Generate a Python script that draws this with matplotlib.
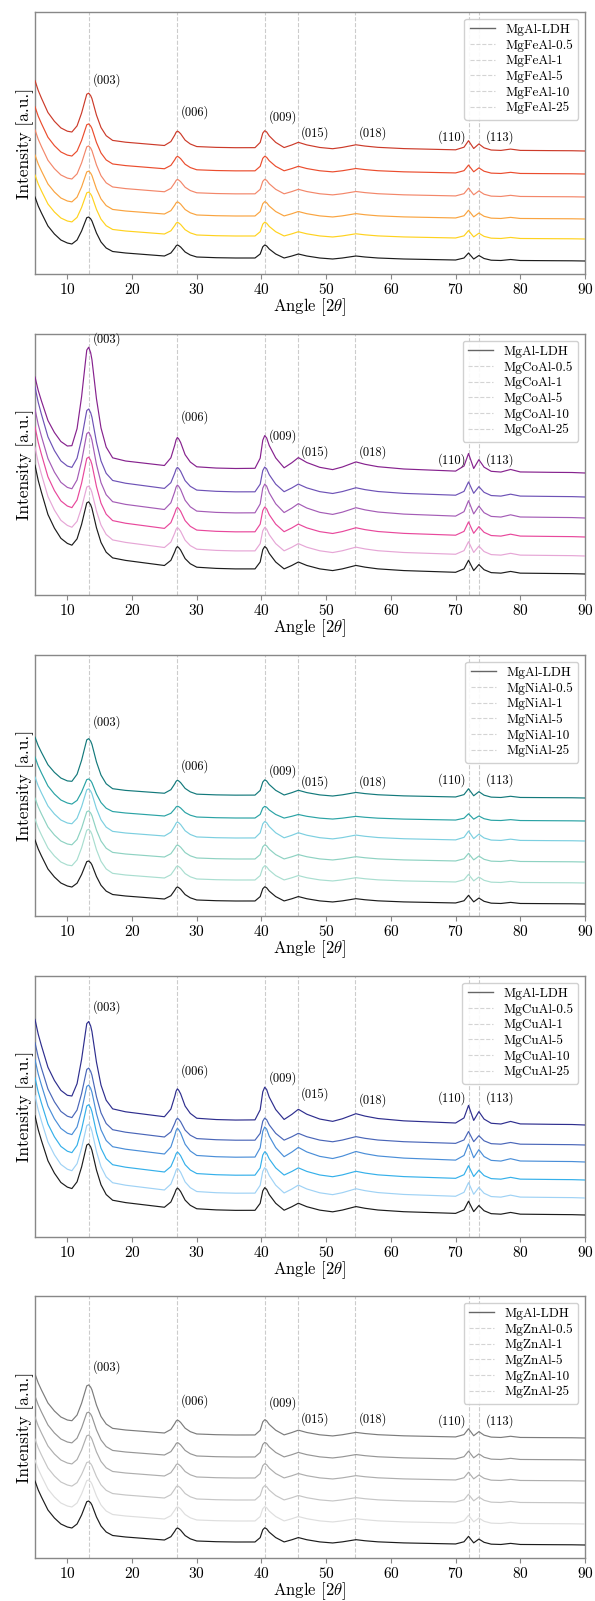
import matplotlib
matplotlib.use("Agg")
import numpy as np
import matplotlib.pyplot as plt
from matplotlib.lines import Line2D

plt.rcParams['font.family'] = 'serif'
plt.rcParams['font.serif'] = ['cmr10']
plt.rcParams['mathtext.fontset'] = 'cm'
plt.rcParams['axes.unicode_minus'] = False
plt.rcParams['axes.formatter.use_mathtext'] = True

# Profil de référence (MgAl-LDH), en unités arbitraires
angle = [5, 5.5, 6, 7, 8, 9, 10, 10.7, 11.5, 12.2, 12.8, 13.0, 13.3, 13.6, 13.8, 14.5, 15.2, 16, 17,
         19, 22, 25, 26, 26.6, 26.8, 27, 27.2, 27.5, 28.2, 29, 30,
         33, 36, 39, 39.8, 40.2, 40.5, 40.8, 41.2, 42.2, 43.5, 44.7, 45.7,
         47, 49, 51, 52.5, 54.6, 56, 58, 62, 66, 70,
         71.3, 72.0, 72.8, 73.6, 74.4, 75.5, 77, 78.5, 80, 85, 88, 90]
background = [64, 55, 48, 35, 27, 21, 18, 16, 14, 13, 12, 11.8, 11.5, 11.2, 11, 10.5, 10, 9.5, 9,
              8, 6.5, 5, 4.8, 4.6, 4.55, 4.5, 4.45, 4.4, 4.2, 4, 3.8,
              3.3, 3, 2.8, 2.7, 2.65, 2.6, 2.55, 2.5, 2.4, 2.3, 2.2, 2.1,
              2, 1.8, 1.6, 1.5, 1.4, 1.3, 1.2, 1, 0.8, 0.6,
              0.5, 0.5, 0.5, 0.4, 0.4, 0.3, 0.3, 0.2, 0.2, 0.1, 0, 0]
peak_003 = [0, 0, 0, 0, 0, 0, 0, 1, 7, 17, 28, 31.5, 32.5, 31, 29, 17.5, 9, 3.5, 0.5] + [0] * 46
other_peaks = [0] * 22 + [3.2, 8.4, 10.5, 11.5, 11, 9.6, 4.8, 2, 0.2,
                          0, 0, 0.2, 4.3, 11.5, 13.4, 12.5, 9.5, 4.6, 0.7, 2.8, 4.9,
                          3, 1.2, 0.4, 1.5, 3.6, 2.7, 1.8, 1, 0.7, 0.4,
                          2.5, 7.5, 1.5, 5.1, 2.1, 0.5, 0.2, 1.3, 0.3, 0.2, 0.2, 0]

metals = ['Fe', 'Co', 'Ni', 'Cu', 'Zn']
loadings = ['0.5', '1', '5', '10', '25']

# décalage vertical et facteurs d'échelle de chaque courbe (MgAl-LDH puis 0.5 ... 25)
offsets = [[13, 35, 55, 77, 100, 123],
           [21, 39, 58, 77, 98, 122],
           [12, 33, 54, 75, 95, 118],
           [22, 39, 57, 75, 92, 112],
           [13, 34, 55, 77, 98, 120]]
bg_scale = [[1, 1, 1, 1.05, 1.05, 1.1],
            [1.7, 1.7, 1.72, 1.7, 1.72, 1.5],
            [1, 1, 1, 1, 1, 0.95],
            [1.55, 1.6, 1.6, 1.6, 1.6, 1.65],
            [1, 1, 1, 1, 1, 1]]
peak_scale = [[1, 1.06, 1.1, 1.12, 1.12, 1.3],
              [1.72, 1.8, 1.9, 2.2, 1.9, 2.5],
              [1.09, 1.09, 1.09, 1.26, 0.9, 1.17],
              [1.74, 1.95, 1.8, 2.3, 1.7, 2.5],
              [1.09, 1.1, 1.1, 1.1, 1.12, 1.17]]
p003_scale = [[1, 1.09, 1.12, 1.2, 1.17, 1.39],
              [1.62, 1.55, 1.85, 2.04, 2.1, 3.34],
              [0.97, 1.3, 1.22, 1.25, 0.94, 1.49],
              [1.64, 1.7, 1.75, 1.8, 1.8, 2.6],
              [1.0, 1.0, 0.91, 1.06, 1.12, 1.28]]

colours = [['#1c1c1c', '#ffd21f', '#f9a440', '#f3876a', '#eb4d2e', '#cc3b2a'],
           ['#1c1c1c', '#e6a6d6', '#e8489c', '#a45cb6', '#6e52b6', '#86228e'],
           ['#1c1c1c', '#a9ded0', '#8ed2c2', '#7ccfe0', '#2aa3a5', '#13797b'],
           ['#1c1c1c', '#9fd2f5', '#35b0ea', '#4a8ed8', '#4a66b8', '#2e2e8e'],
           ['#1c1c1c', '#dedede', '#c6c6c6', '#aeaeae', '#969696', '#7c7c7c']]

# réflexions
hkl = ['(003)', '(006)', '(009)', '(015)', '(018)', '(110)', '(113)']
hkl_pos = [13.3, 27.0, 40.5, 45.7, 54.5, 72.1, 73.65]
hkl_text_x = [14.0, 27.6, 41.1, 46.1, 55.1, 71.6, 74.6]
hkl_text_y = [[194, 162, 157, 141, 141, 137, 137],
              [256, 178, 159, 143, 143, 135, 135],
              [194, 150, 145, 134, 134, 136, 136],
              [230, 166, 159, 143, 137, 139, 139],
              [191, 157, 155, 139, 139, 137, 137]]

# position des panneaux (pixels depuis le haut)
W, H = 595, 1601
panel_px = [(12, 274), (334, 595), (655, 916), (976, 1237), (1296, 1558)]

x = np.array(angle)
bg = np.array(background)
p3 = np.array(peak_003)
pk = np.array(other_peaks)

fig = plt.figure(figsize=(W / 100, H / 100), dpi=100)

for i, metal in enumerate(metals):
    top, bot = panel_px[i]
    ax = fig.add_axes([35 / W, 1 - bot / H, 550 / W, (bot - top) / H])
    labels = ['MgAl-LDH'] + ['Mg%sAl-%s' % (metal, s) for s in loadings]

    for j in range(6):
        y = offsets[i][j] + bg_scale[i][j] * bg + peak_scale[i][j] * pk + p003_scale[i][j] * p3
        ax.plot(x, y, color=colours[i][j], lw=0.85, zorder=3 + (5 - j) * 0.01)

    for pos in hkl_pos:
        ax.axvline(pos, color='#cccccc', lw=0.8, ls='--', zorder=1)

    for k, name in enumerate(hkl):
        ax.text(hkl_text_x[k], hkl_text_y[i][k], name, fontsize=9,
                ha='right' if name == '(110)' else 'left', va='center')

    handles = [Line2D([], [], color='#666666', lw=1)]
    handles += [Line2D([], [], color='#d4d4d4', lw=0.8, ls='--') for _ in range(5)]
    leg = ax.legend(handles, labels, loc='upper right', fontsize=9.5,
                    handlelength=1.9, labelspacing=0.25, framealpha=0.9, fancybox=True)
    leg.get_frame().set_edgecolor('#cccccc')

    ax.set_xlim(5, 90)
    ax.set_ylim(0, bot - top)
    ax.set_xticks([10, 20, 30, 40, 50, 60, 70, 80, 90])
    ax.set_yticks([])
    ax.tick_params(axis='x', labelsize=11, color='#888888', length=3.5, pad=2)
    for sp in ax.spines.values():
        sp.set_color('#888888')
        sp.set_linewidth(1)
    ax.set_xlabel(r'Angle [$2\theta$]', fontsize=12, labelpad=0)
    ax.set_ylabel('Intensity [a.u.]', fontsize=12.5, labelpad=1)

fig.savefig('out.png', dpi=100)
